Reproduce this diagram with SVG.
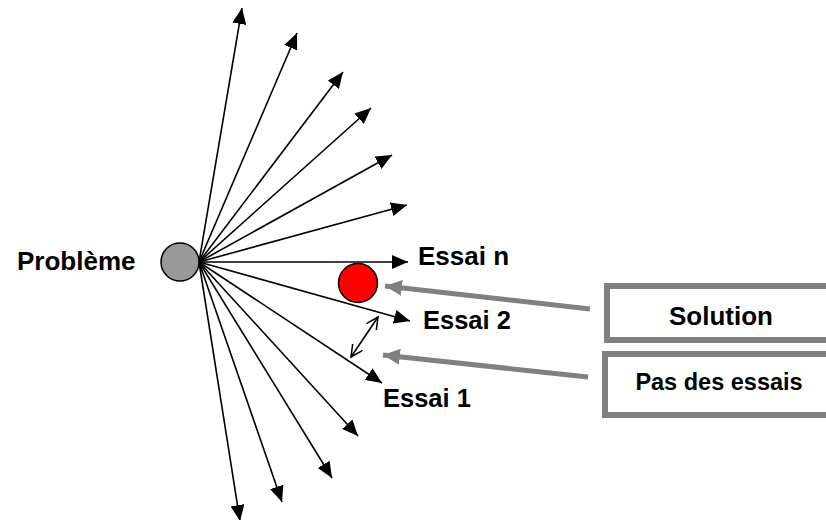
<svg xmlns="http://www.w3.org/2000/svg" width="826" height="520" viewBox="0 0 826 520">
<style>
text{font-family:"Liberation Sans",Arial,sans-serif;font-weight:bold;fill:#000}
.ray{stroke:#000;stroke-width:1.6;fill:none}
.gr{stroke:#808080;stroke-width:5;fill:none}
.box{fill:#fff;stroke:#808080;stroke-width:6}
</style>
<defs>
<marker id="ah" markerUnits="userSpaceOnUse" markerWidth="17" markerHeight="14" refX="16" refY="7" orient="auto">
<path d="M0,0 L16,7 L0,14 z" fill="#000"/>
</marker>
<marker id="ga" markerUnits="userSpaceOnUse" markerWidth="18" markerHeight="16" refX="17" refY="8" orient="auto">
<path d="M0,0 L17,8 L0,16 z" fill="#808080"/>
</marker>
<marker id="oa" markerUnits="userSpaceOnUse" markerWidth="14" markerHeight="14" refX="12" refY="6" orient="auto-start-reverse">
<path d="M0,0 L12,6 L0,12" fill="none" stroke="#000" stroke-width="1.5"/>
</marker>
</defs>
<g id="connectors">
<g marker-end="url(#ah)" class="ray">
<line x1="199" y1="262" x2="242" y2="8"/>
<line x1="199" y1="262" x2="297" y2="33"/>
<line x1="199" y1="262" x2="343" y2="72"/>
<line x1="199" y1="262" x2="371" y2="108"/>
<line x1="199" y1="262" x2="392" y2="155"/>
<line x1="199" y1="262" x2="407" y2="205"/>
<line x1="199" y1="262" x2="408" y2="262"/>
<line x1="199" y1="262" x2="410" y2="321"/>
<line x1="199" y1="262" x2="382" y2="383"/>
<line x1="199" y1="262" x2="358" y2="436"/>
<line x1="199" y1="262" x2="332" y2="478"/>
<line x1="199" y1="262" x2="282" y2="502"/>
<line x1="199" y1="262" x2="240" y2="521"/>
</g>
<line x1="351" y1="357" x2="378" y2="317" class="ray" marker-start="url(#oa)" marker-end="url(#oa)"/>
<line x1="590" y1="309" x2="385" y2="286" class="gr" marker-end="url(#ga)"/>
<line x1="588" y1="377" x2="383" y2="355" class="gr" marker-end="url(#ga)"/>
</g>
<g id="probleme">
<circle cx="180" cy="262" r="19" fill="#999" stroke="#000" stroke-width="1.5"/>
<text x="17" y="270" font-size="26">Problème</text>
</g>
<g id="solution-dot">
<circle cx="358" cy="283" r="19.5" fill="#f00" stroke="#000" stroke-width="1.5"/>
</g>
<g id="essai-n"><text x="418" y="265" font-size="26">Essai n</text></g>
<g id="essai-2"><text x="423" y="329" font-size="25.5">Essai 2</text></g>
<g id="essai-1"><text x="383" y="407" font-size="25.5">Essai 1</text></g>
<g id="solution-box">
<rect x="607" y="286" width="240" height="54" class="box"/>
<text x="721" y="325" font-size="26" text-anchor="middle">Solution</text>
</g>
<g id="pas-box">
<rect x="605" y="354" width="240" height="61" class="box"/>
<text x="719" y="390" font-size="23.5" text-anchor="middle">Pas des essais</text>
</g>
</svg>
